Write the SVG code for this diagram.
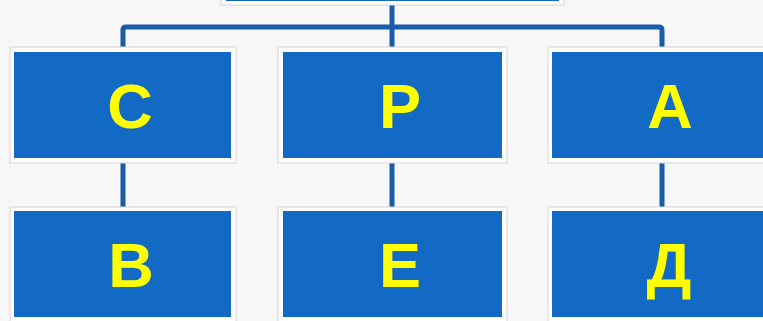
<svg xmlns="http://www.w3.org/2000/svg" width="763" height="321" viewBox="0 0 763 321">
  <style>
    .frame { fill: #ffffff; stroke: #d4d4d4; stroke-width: 1; }
    .box { fill: #126AC4; }
    .lbl { font-family: "Liberation Sans", Arial, sans-serif; font-weight: bold; font-size: 63px; fill: #FFFF00; text-anchor: middle; }
    .conn { fill: none; stroke: #1B5CA8; stroke-width: 5; stroke-linejoin: round; }
  </style>
  <rect x="0" y="0" width="763" height="321" fill="#F7F7F7"/>

  <g id="connectors">
    <path class="conn" d="M392,5 V47"/>
    <path class="conn" d="M123,47 V30 Q123,27 126,27 H659 Q662,27 662,30 V47"/>
    <path class="conn" d="M123,163 V207"/>
    <path class="conn" d="M392,163 V207"/>
    <path class="conn" d="M662,163 V207"/>
  </g>

  <g id="node-top">
    <rect class="frame" x="221" y="-20" width="343" height="25"/>
    <rect class="box" x="226" y="-20" width="333" height="21"/>
  </g>

  <g id="node-c">
    <rect class="frame" x="10" y="47" width="226" height="116"/>
    <rect class="box" x="14" y="52" width="217" height="106"/>
    <text class="lbl" x="130" y="128">С</text>
  </g>
  <g id="node-p">
    <rect class="frame" x="278" y="47" width="229" height="116"/>
    <rect class="box" x="283" y="52" width="219" height="106"/>
    <text class="lbl" x="400" y="128">Р</text>
  </g>
  <g id="node-a">
    <rect class="frame" x="548" y="47" width="240" height="116"/>
    <rect class="box" x="552" y="52" width="236" height="106"/>
    <text class="lbl" x="670" y="128">А</text>
  </g>

  <g id="node-b">
    <rect class="frame" x="10" y="207" width="226" height="125"/>
    <rect class="box" x="14" y="211" width="217" height="106"/>
    <text class="lbl" x="131" y="287">В</text>
  </g>
  <g id="node-e">
    <rect class="frame" x="278" y="207" width="229" height="125"/>
    <rect class="box" x="283" y="211" width="219" height="106"/>
    <text class="lbl" x="400" y="287">Е</text>
  </g>
  <g id="node-d">
    <rect class="frame" x="548" y="207" width="240" height="125"/>
    <rect class="box" x="552" y="211" width="236" height="106"/>
    <text class="lbl" x="669" y="287">Д</text>
  </g>
</svg>
